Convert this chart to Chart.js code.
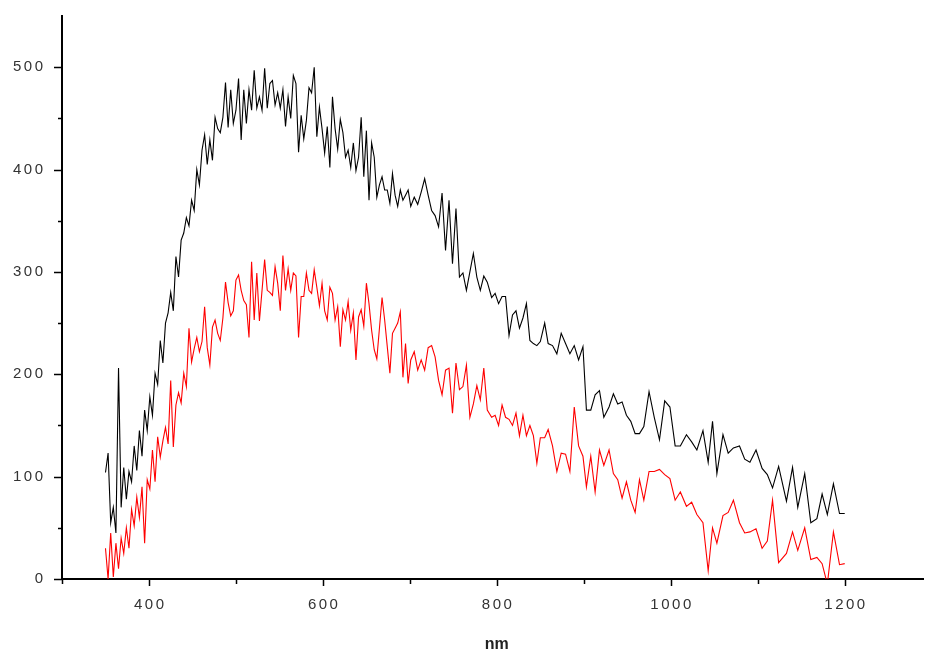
<!DOCTYPE html>
<html>
<head>
<meta charset="utf-8">
<title>Spectrum</title>
<script src="https://cdn.jsdelivr.net/npm/chart.js@4.4.1/dist/chart.umd.min.js"></script>
<style>
    html, body { margin: 0; padding: 0; background: #fff; }
    #wrap { width: 925px; height: 653px; }
</style>
</head>
<body>
<div id="wrap"><canvas id="spectrumChart" width="925" height="653"></canvas></div>
<script>
// Wavelength grid (nm), shared by both traces
const wavelength = [
    350, 353, 356, 359, 362, 365, 368, 371, 374, 377, 380, 383, 386, 389, 392, 395, 398, 401, 404, 407,
    410, 413, 416, 419, 422, 425, 428, 431, 434, 437, 440, 443, 446, 449, 452, 455, 458, 461, 464, 467,
    470, 473, 476, 479, 482, 485, 488, 491, 494, 497, 500, 503, 506, 509, 512, 515, 518, 521, 524, 527,
    530, 533, 536, 539, 542, 545, 548, 551, 554, 557, 560, 563, 566, 569, 572, 575, 578, 581, 584, 587,
    590, 593, 596, 599, 602, 605, 608, 611, 614, 617, 620, 623, 626, 629, 632, 635, 638, 641, 644, 647,
    650, 653, 656, 659, 662, 665, 668, 671, 674, 677, 680, 683, 686, 689, 692, 695, 698, 701,
    705, 709, 713, 717, 721, 725, 729, 733, 737, 741, 745, 749, 753, 757, 761, 765, 769, 773, 777, 781,
    785, 789, 794, 798, 802, 806, 810, 814, 818, 822, 826, 830, 834, 838, 842, 846, 850, 855, 859, 864,
    869, 874, 879, 884, 889, 894, 899, 903, 908, 913, 918, 923, 929, 934, 939, 944, 949, 954, 959, 964,
    969, 975, 981, 987, 993, 999, 1005, 1011, 1018, 1024, 1030, 1037, 1043, 1048, 1053, 1060, 1066, 1072, 1079, 1085,
    1091, 1098, 1105, 1111, 1117, 1124, 1133, 1140, 1146, 1154, 1161, 1168, 1174, 1180, 1187, 1194, 1200
];

// Upper (black) trace
const blackTrace = [
    104, 123, 55, 70, 45, 206, 70, 109, 78, 105, 95, 130, 106, 145, 120, 165, 145, 178, 160, 201,
    190, 233, 211, 250, 260, 280, 262, 315, 295, 331, 338, 353, 345, 370, 360, 400, 385, 419, 434, 405,
    429, 409, 451, 440, 436, 451, 485, 441, 478, 445, 458, 489, 429, 478, 445, 478, 458, 497, 460, 471,
    458, 499, 460, 484, 487, 463, 475, 460, 478, 442, 471, 450, 492, 484, 417, 453, 430, 448, 480, 475,
    500, 432, 461, 440, 416, 442, 402, 471, 440, 420, 449, 436, 412, 419, 402, 426, 399, 412, 451, 393,
    438, 370, 426, 412, 373, 385, 393, 380, 380, 367, 396, 375, 364, 380, 370, 375, 380, 364,
    373, 366, 378, 391, 375, 360, 355, 344, 377, 321, 370, 308, 362, 295, 299, 282, 300, 318, 295, 282,
    296, 290, 275, 279, 269, 276, 276, 238, 258, 262, 245, 255, 269, 233, 230, 228, 232, 250, 230, 228,
    220, 240, 230, 220, 228, 214, 227, 165, 165, 180, 184, 158, 168, 181, 171, 173, 160, 154, 142, 142,
    149, 183, 158, 136, 174, 168, 130, 130, 141, 134, 126, 145, 114, 154, 103, 141, 123, 128, 130, 117,
    114, 126, 108, 102, 89, 110, 76, 109, 70, 103, 55, 59, 83, 63, 93, 64, 64
];

// Lower (red) trace
const redTrace = [
    30, 0, 45, 2, 35, 10, 40, 25, 50, 30, 68, 52, 80, 60, 90, 35, 97, 88, 126, 95,
    139, 119, 135, 148, 132, 194, 129, 170, 182, 172, 201, 188, 245, 212, 225, 236, 222, 232, 266, 226,
    209, 246, 253, 240, 233, 255, 290, 270, 257, 262, 292, 297, 282, 272, 268, 236, 310, 253, 299, 252,
    282, 312, 282, 280, 277, 305, 289, 262, 316, 282, 303, 282, 299, 296, 236, 276, 276, 299, 282, 279,
    302, 285, 267, 289, 262, 253, 285, 279, 253, 266, 227, 263, 253, 271, 243, 260, 214, 256, 263, 247,
    289, 269, 243, 224, 215, 245, 275, 253, 227, 201, 240, 245, 250, 261, 197, 230, 191, 214,
    222, 204, 214, 204, 226, 228, 217, 194, 180, 204, 206, 162, 211, 185, 188, 209, 158, 171, 189, 175,
    206, 165, 158, 160, 150, 170, 158, 156, 150, 162, 140, 160, 140, 150, 140, 113, 138, 138, 146, 130,
    105, 123, 122, 105, 168, 130, 120, 90, 120, 85, 126, 111, 126, 103, 97, 79, 95, 77, 65, 97,
    77, 105, 105, 107, 102, 98, 77, 85, 71, 75, 63, 55, 8, 50, 35, 62, 65, 77, 55, 45,
    46, 49, 30, 37, 77, 16, 25, 46, 28, 50, 19, 21, 15, -5, 46, 14, 15
];

// Axis tick labels and minor tick positions
const xTickLabels = [400, 600, 800, 1000, 1200];
const xMinorTicks = [300, 500, 700, 900, 1100];
const yTickLabels = [0, 100, 200, 300, 400, 500];
const yMinorTicks = [50, 150, 250, 350, 450];
const xTitle = 'nm';

const labelFamily = "'Liberation Sans', Arial, sans-serif";
const labelSpacing = 2.5;

/**
 * Draw tick marks, tick labels and the axis title through the chart scales
 */
const axisDecor = {
    id: 'axisDecor',
    afterDraw(chart) {
        const ctx = chart.ctx;
        const area = chart.chartArea;
        const xScale = chart.scales.x;
        const yScale = chart.scales.y;
        const spaced = 'letterSpacing' in ctx;
        ctx.save();

        // Tick marks
        ctx.strokeStyle = '#000';
        ctx.lineWidth = 1.5;
        ctx.beginPath();
        xTickLabels.concat(xMinorTicks).forEach(v => {
            const px = Math.round(xScale.getPixelForValue(v)) + 0.5;
            const len = xTickLabels.includes(v) ? 7 : 5;
            ctx.moveTo(px, area.bottom);
            ctx.lineTo(px, area.bottom + len);
        });
        yTickLabels.concat(yMinorTicks).forEach(v => {
            const py = Math.round(yScale.getPixelForValue(v)) + 0.5;
            const len = yTickLabels.includes(v) ? 8 : 4;
            ctx.moveTo(area.left, py);
            ctx.lineTo(area.left - len, py);
        });
        ctx.stroke();

        // Tick labels
        ctx.fillStyle = '#333';
        ctx.font = '15px ' + labelFamily;
        if (spaced) ctx.letterSpacing = labelSpacing + 'px';
        const shift = spaced ? labelSpacing : 0;
        ctx.textBaseline = 'middle';
        ctx.textAlign = 'right';
        yTickLabels.forEach(v => {
            ctx.fillText(String(v), area.left - 19 + shift, yScale.getPixelForValue(v));
        });
        ctx.textAlign = 'center';
        xTickLabels.forEach(v => {
            ctx.fillText(String(v), xScale.getPixelForValue(v) + shift / 2, area.bottom + 26);
        });

        // Axis title, centred under the full 300-1300 axis
        if (spaced) ctx.letterSpacing = '0px';
        ctx.fillStyle = '#222';
        ctx.font = 'bold 16px ' + labelFamily;
        const mid = (xScale.getPixelForValue(300) + xScale.getPixelForValue(1300)) / 2;
        ctx.fillText(xTitle, mid, area.bottom + 66);
        ctx.restore();
    }
};

document.addEventListener('DOMContentLoaded', function() {
    const canvas = document.getElementById('spectrumChart');

    new Chart(canvas, {
        type: 'line',
        data: {
            datasets: [{
                label: 'black',
                data: wavelength.map((w, i) => ({ x: w, y: blackTrace[i] })),
                borderColor: '#000000',
                borderWidth: 1.1,
                pointRadius: 0,
                tension: 0,
                fill: false
            }, {
                label: 'red',
                data: wavelength.map((w, i) => ({ x: w, y: redTrace[i] })),
                borderColor: '#ff0000',
                borderWidth: 1.1,
                pointRadius: 0,
                tension: 0,
                fill: false
            }]
        },
        options: {
            responsive: false,
            animation: false,
            layout: {
                padding: { top: 16, right: 2, bottom: 0, left: 0 }
            },
            plugins: {
                legend: { display: false },
                tooltip: { enabled: false }
            },
            scales: {
                x: {
                    type: 'linear',
                    min: 300,
                    max: 1290,
                    afterFit(scale) { scale.height = 74; },
                    grid: { display: false, drawTicks: false },
                    border: { display: true, color: '#000', width: 2 },
                    ticks: { display: false }
                },
                y: {
                    type: 'linear',
                    min: 0,
                    max: 550,
                    afterFit(scale) { scale.width = 62; },
                    grid: { display: false, drawTicks: false },
                    border: { display: true, color: '#000', width: 2 },
                    ticks: { display: false }
                }
            }
        },
        plugins: [axisDecor]
    });
});
</script>
</body>
</html>
